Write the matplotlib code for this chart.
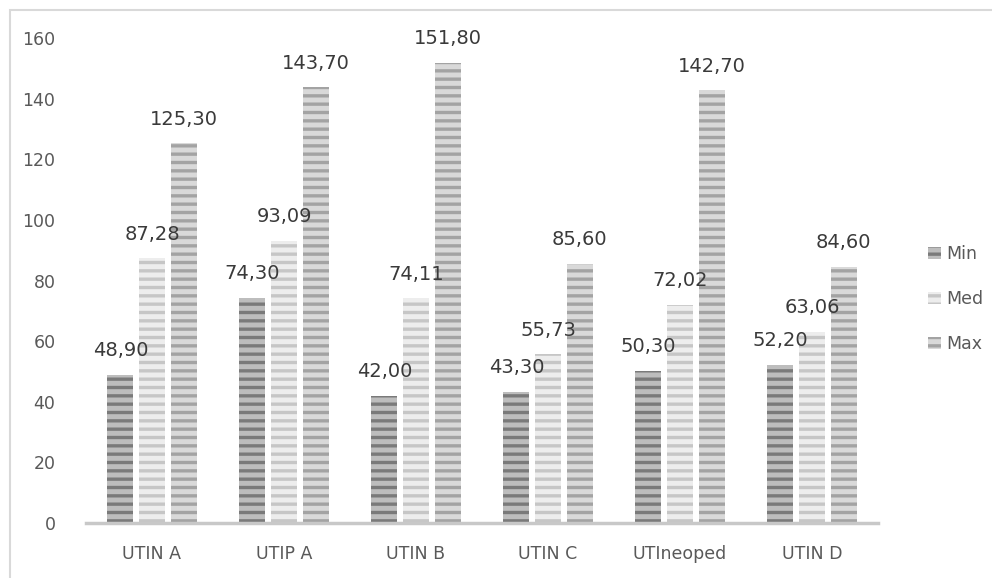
import matplotlib
matplotlib.use("Agg")
import matplotlib.pyplot as plt
from matplotlib.patches import Rectangle
import numpy as np

categories = ["UTIN A", "UTIP A", "UTIN B", "UTIN C", "UTIneoped", "UTIN D"]
series_names = ["Min", "Med", "Max"]
min_vals = [48.90, 74.30, 42.00, 43.30, 50.30, 52.20]
med_vals = [87.28, 93.09, 74.11, 55.73, 72.02, 63.06]
max_vals = [125.30, 143.70, 151.80, 85.60, 142.70, 84.60]
y_ticks = [0, 20, 40, 60, 80, 100, 120, 140, 160]

faces = ["#bdbdbd", "#ededed", "#d9d9d9"]
hatch_cols = ["#7a7a7a", "#c6c6c6", "#a3a3a3"]

plt.rcParams["hatch.linewidth"] = 2.4
plt.rcParams["font.family"] = ["DejaVu Sans"]

fig = plt.figure(figsize=(9.92, 5.78), dpi=100)
ax = fig.add_axes([86/992, 1-523/578, (878-86)/992, (523-38)/578])

x = np.arange(len(categories))
width = 0.197
step = 0.24
all_vals = [min_vals, med_vals, max_vals]
handles = []
for i, (vals, name) in enumerate(zip(all_vals, series_names)):
    pos = x + (i - 1) * step
    bars = ax.bar(pos, vals, width, color=faces[i], edgecolor=hatch_cols[i],
                  linewidth=0, hatch="--", label=name)
    handles.append(bars)
    for p, v in zip(pos, vals):
        ax.annotate(f"{v:.2f}".replace(".", ","), (p, v), xytext=(0, 24),
                    textcoords="offset pixels", ha="center", va="center",
                    fontsize=14, color="#3a3a3a")

ax.set_xlim(-0.5, len(categories) - 0.5)
ax.set_ylim(0, 160)
ax.set_yticks(y_ticks)
ax.set_yticklabels([str(t) for t in y_ticks], color="#595959", fontsize=12.5)
ax.set_xticks(x)
ax.set_xticklabels(categories, color="#595959", fontsize=12.5)
ax.tick_params(axis="y", length=0, pad=22)
ax.tick_params(axis="x", length=0, pad=16)
for s in ["top", "right", "left"]:
    ax.spines[s].set_visible(False)
ax.spines["bottom"].set_color("#c8c8c8")
ax.spines["bottom"].set_linewidth(2.5)

leg = fig.legend(handles=handles, labels=series_names, loc="center left",
                 bbox_to_anchor=(912/992, 1-299/578), frameon=False,
                 fontsize=12.5, labelcolor="#595959", handlelength=0.75,
                 handleheight=0.7, handletextpad=0.35, labelspacing=1.55)

fig.patches.append(Rectangle((10/992, -0.1), 1.2, 1 - 10/578 + 0.1,
                             transform=fig.transFigure, fill=False,
                             edgecolor="#d9d9d9", linewidth=1.5))

fig.savefig("out.png", dpi=100)
